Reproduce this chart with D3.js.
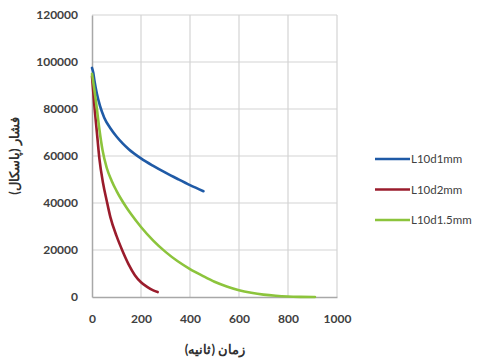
<!DOCTYPE html>
<html><head><meta charset="utf-8">
<script src="https://cdn.jsdelivr.net/npm/d3@7"></script>
<style>body{margin:0;background:#fff}svg text{font-family:Lato,"Open Sans",sans-serif}</style>
</head><body><svg id="c" width="483" height="360"></svg>
<script>
const seriesNames = ["L10d1mm", "L10d2mm", "L10d1.5mm"];
const seriesColors = ["#1f5aa6", "#9a1c2c", "#8cc43c"];
const blueT = [0, 5, 10, 20, 33, 50, 75, 100, 125, 150, 200, 250, 300, 350, 400, 455];
const blueP = [97500, 95500, 92000, 86500, 81200, 76300, 71800, 68300, 65400, 62900, 59000, 55800, 52900, 50200, 47600, 45000];
const redT = [0, 10, 20, 30, 45, 60, 75, 100, 125, 150, 175, 200, 225, 250, 268];
const redP = [94000, 81000, 70000, 59000, 48500, 41000, 34000, 26000, 19500, 13800, 9300, 6300, 4300, 2800, 2100];
const greenT = [0, 10, 20, 30, 43, 60, 80, 100, 120, 140, 160, 200, 250, 300, 350, 400, 450, 500, 550, 600, 650, 700, 750, 800, 850, 910];
const greenP = [95000, 88000, 80000, 71500, 62500, 55000, 49500, 45200, 41500, 38200, 35200, 29800, 24000, 19200, 15200, 11900, 9100, 6500, 4500, 2900, 1800, 1000, 500, 200, 60, 0];
const xTicks = [0, 200, 400, 600, 800, 1000];
const yTicks = [0, 20000, 40000, 60000, 80000, 100000, 120000];
const xTitle = "زمان (ثانیه)";
const yTitle = "فشار (پاسکال)";

const svg = d3.select("#c");
const x = d3.scaleLinear().domain([0, 1000]).range([92, 337]);
const y = d3.scaleLinear().domain([0, 120000]).range([297, 15]);

// gridlines
svg.append("g").selectAll("line").data(yTicks.slice(1)).join("line")
  .attr("x1", x(0)).attr("x2", x(1000)).attr("y1", d => y(d)).attr("y2", d => y(d))
  .attr("stroke", "#d4d4d4").attr("stroke-width", 1.2);
svg.append("g").selectAll("line").data(xTicks.slice(1)).join("line")
  .attr("y1", y(0)).attr("y2", y(120000)).attr("x1", d => x(d)).attr("x2", d => x(d))
  .attr("stroke", "#d4d4d4").attr("stroke-width", 1.2);

// axes
const xa = svg.append("g").attr("transform", `translate(0,${y(0)})`)
  .call(d3.axisBottom(x).tickValues(xTicks).tickSize(0).tickPadding(17).tickFormat(d3.format("d")));
const ya = svg.append("g").attr("transform", `translate(${x(0)},0)`)
  .call(d3.axisLeft(y).tickValues(yTicks).tickSize(0).tickPadding(14).tickFormat(d3.format("d")));
[xa, ya].forEach(a => {
  a.select(".domain").attr("stroke", "#a8a8a8").attr("stroke-width", 1.5);
  a.selectAll("text").attr("font-size", 12).attr("font-weight", "bold").attr("fill", "#404040");
});

// series
const data = [
  blueT.map((t, i) => [t, blueP[i]]),
  redT.map((t, i) => [t, redP[i]]),
  greenT.map((t, i) => [t, greenP[i]])
];
const line = d3.line().x(d => x(d[0])).y(d => y(d[1])).curve(d3.curveMonotoneX);
svg.append("g").selectAll("path").data(data).join("path")
  .attr("d", line).attr("fill", "none")
  .attr("stroke", (d, i) => seriesColors[i]).attr("stroke-width", 2.6)
  .attr("stroke-linecap", "round");

// titles
svg.append("text").attr("x", 215).attr("y", 354).attr("text-anchor", "middle")
  .attr("font-size", 13).attr("font-weight", "bold").attr("fill", "#303030")
  .attr("direction", "rtl").text(xTitle);
svg.append("text").attr("transform", "translate(19,156) rotate(-90)").attr("text-anchor", "middle")
  .attr("font-size", 13).attr("font-weight", "bold").attr("fill", "#303030")
  .attr("direction", "rtl").text(yTitle);

// legend
const lg = svg.append("g").selectAll("g").data(seriesNames).join("g")
  .attr("transform", (d, i) => `translate(375,${159 + i * 30.5})`);
lg.append("line").attr("x1", 0).attr("x2", 35).attr("stroke", (d, i) => seriesColors[i]).attr("stroke-width", 2.6);
lg.append("text").attr("x", 36).attr("y", 4).attr("font-size", 11.5).attr("fill", "#404040").text(d => d);
</script></body></html>
